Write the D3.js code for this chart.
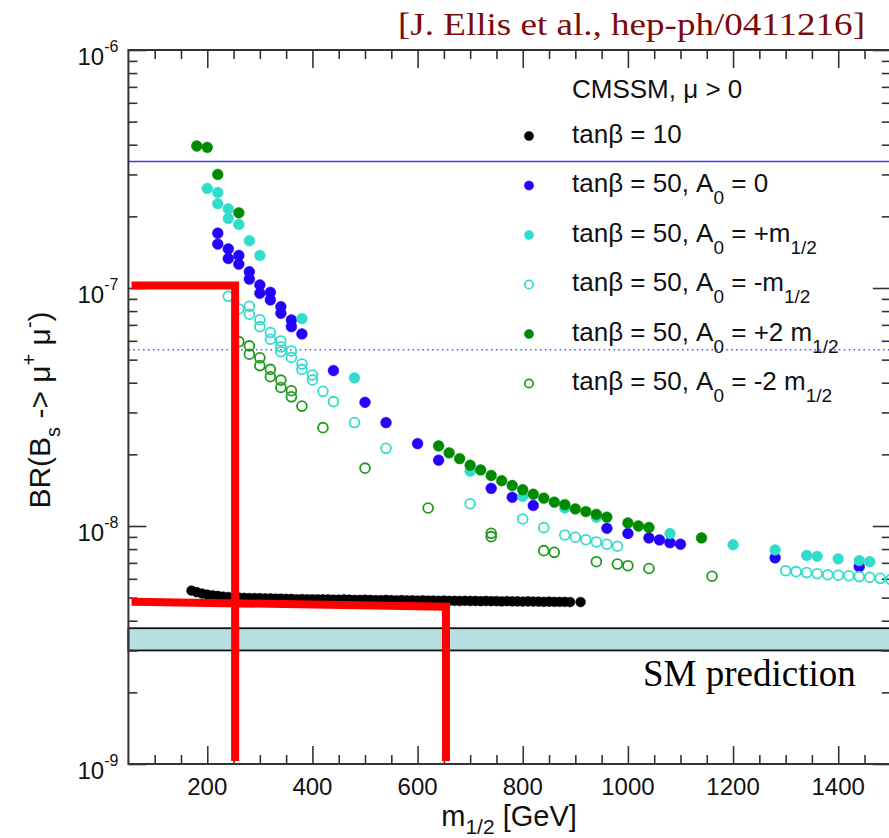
<!DOCTYPE html>
<html>
<head>
<meta charset="utf-8">
<script src="https://cdn.jsdelivr.net/npm/d3@7"></script>
<style>
  html, body { margin: 0; padding: 0; background: #fff; }
  svg { display: block; font-family: "Liberation Sans", Arial, Helvetica, sans-serif; }
</style>
</head>
<body>
<div id="chart"></div>
<script>
// ---------------- data ----------------
const xMajorTicks = [200, 400, 600, 800, 1000, 1200, 1400];
const yMajorTicks = [1e-9, 1e-8, 1e-7, 1e-6];
const yTickExponents = ["-9", "-8", "-7", "-6"];

// tan(beta) = 10
const tb10 = [
  [170,5.35e-9],[180,5.27e-9],[190,5.20e-9],[200,5.15e-9],[210,5.11e-9],[220,5.08e-9],[230,5.05e-9],
  [240,5.03e-9],[250,5.02e-9],[260,5.00e-9],[270,4.99e-9],[280,4.98e-9],[290,4.98e-9],[300,4.97e-9],
  [310,4.96e-9],[320,4.96e-9],[330,4.95e-9],[340,4.95e-9],[350,4.94e-9],[360,4.94e-9],[370,4.92e-9],
  [380,4.93e-9],[390,4.92e-9],[400,4.92e-9],[410,4.91e-9],[420,4.92e-9],[430,4.91e-9],[440,4.90e-9],
  [450,4.90e-9],[460,4.91e-9],[470,4.90e-9],[480,4.89e-9],[490,4.89e-9],[500,4.90e-9],[510,4.89e-9],
  [520,4.88e-9],[530,4.88e-9],[540,4.89e-9],[550,4.88e-9],[560,4.87e-9],[570,4.88e-9],[580,4.87e-9],
  [590,4.87e-9],[600,4.86e-9],[610,4.87e-9],[620,4.86e-9],[630,4.86e-9],[640,4.85e-9],[650,4.86e-9],
  [660,4.85e-9],[670,4.85e-9],[680,4.84e-9],[690,4.85e-9],[700,4.84e-9],[710,4.84e-9],[720,4.83e-9],
  [730,4.84e-9],[740,4.83e-9],[750,4.83e-9],[760,4.82e-9],[770,4.83e-9],[780,4.82e-9],[790,4.82e-9],
  [800,4.81e-9],[810,4.82e-9],[820,4.81e-9],[830,4.81e-9],[840,4.80e-9],[850,4.81e-9],[860,4.80e-9],
  [870,4.80e-9],[880,4.80e-9],[890,4.79e-9],[910,4.79e-9]
];

// tan(beta) = 50, A0 = 0
const tb50A0 = [
  [220,1.70e-7],[220,1.53e-7],[240,1.46e-7],[240,1.33e-7],[260,1.37e-7],[260,1.26e-7],[280,1.17e-7],
  [280,1.09e-7],[300,1.03e-7],[300,9.50e-8],[320,9.59e-8],[320,8.91e-8],[340,8.34e-8],[340,7.83e-8],
  [360,7.34e-8],[360,6.88e-8],[380,6.41e-8],[440,4.50e-8],[500,3.31e-8],[540,2.72e-8],[600,2.22e-8],
  [640,1.89e-8],[740,1.44e-8],[780,1.32e-8],[820,1.22e-8],[960,9.78e-9],[1000,9.30e-9],[1040,8.91e-9],
  [1060,8.74e-9],[1080,8.51e-9],[1100,8.38e-9],[1280,7.35e-9],[1440,6.75e-9]
];

// tan(beta) = 50, A0 = +m1/2
const tb50Ap1 = [
  [200,2.62e-7],[220,2.52e-7],[220,2.26e-7],[240,2.15e-7],[240,1.96e-7],[260,1.85e-7],[280,1.58e-7],
  [300,1.37e-7],[380,7.44e-8],[480,4.19e-8],[700,1.70e-8],[800,1.33e-8],[880,1.19e-8],[940,1.09e-8],
  [1080,9.30e-9],[1200,8.34e-9],[1280,7.93e-9],[1340,7.53e-9],[1360,7.46e-9],[1400,7.28e-9],
  [1440,7.16e-9],[1460,7.08e-9]
];

// tan(beta) = 50, A0 = -m1/2
const tb50Am1 = [
  [240,9.23e-8],[260,8.16e-8],[280,8.38e-8],[280,7.76e-8],[300,7.36e-8],[300,6.88e-8],[320,6.50e-8],
  [320,6.09e-8],[340,5.99e-8],[340,5.66e-8],[340,5.40e-8],[360,5.44e-8],[360,5.11e-8],[380,4.79e-8],
  [380,4.55e-8],[400,4.31e-8],[400,4.11e-8],[420,3.68e-8],[440,3.33e-8],[480,2.72e-8],[540,2.12e-8],
  [700,1.24e-8],[800,1.07e-8],[840,9.84e-9],[880,9.17e-9],[900,8.97e-9],[920,8.76e-9],[940,8.57e-9],
  [960,8.38e-9],[980,8.22e-9],[1300,6.49e-9],[1320,6.43e-9],[1340,6.37e-9],[1360,6.30e-9],
  [1380,6.24e-9],[1400,6.21e-9],[1420,6.18e-9],[1440,6.13e-9],[1460,6.09e-9],[1480,6.03e-9],[1500,5.96e-9]
];

// tan(beta) = 50, A0 = +2 m1/2
const tb50Ap2 = [
  [180,3.95e-7],[200,3.90e-7],[220,3.00e-7],[260,2.07e-7],[640,2.17e-8],[660,2.03e-8],[680,1.92e-8],
  [700,1.80e-8],[720,1.72e-8],[740,1.63e-8],[760,1.55e-8],[780,1.48e-8],[800,1.42e-8],[820,1.36e-8],
  [840,1.31e-8],[860,1.26e-8],[880,1.23e-8],[900,1.18e-8],[920,1.15e-8],[940,1.12e-8],[960,1.09e-8],
  [1000,1.03e-8],[1020,1.00e-8],[1040,9.86e-9],[1140,8.91e-9]
];

// tan(beta) = 50, A0 = -2 m1/2
const tb50Am2 = [
  [260,5.95e-8],[280,5.71e-8],[280,5.27e-8],[300,5.09e-8],[300,4.72e-8],[320,4.55e-8],[320,4.24e-8],
  [340,4.10e-8],[340,3.82e-8],[360,3.70e-8],[360,3.49e-8],[380,3.19e-8],[420,2.59e-8],[500,1.75e-8],
  [620,1.19e-8],[740,9.32e-9],[740,9.02e-9],[840,7.88e-9],[860,7.75e-9],[940,7.08e-9],[980,6.92e-9],
  [1000,6.81e-9],[1040,6.63e-9],[1160,6.15e-9]
];

// reference levels
const limitSolid = 3.4e-7;
const limitDotted = 5.5e-8;
const smBand = [3.0e-9, 3.72e-9];

// hand-drawn red annotation lines (m1/2, BR)
const redLine1 = [[56,1.024e-7],[253,1.024e-7],[253,1.03e-9]];
const redLine2 = [[56,4.81e-9],[654,4.58e-9],[654,1.03e-9]];

const legendItems = [
  {color:"#000000", filled:true,  parts:[["tanβ = 10",0]]},
  {color:"#2400ff", filled:true,  parts:[["tanβ = 50, A",0],["0",1],[" = 0",0]]},
  {color:"#30dccb", filled:true,  parts:[["tanβ = 50, A",0],["0",1],[" = +m",0],["1/2",1]]},
  {color:"#30dccb", filled:false, parts:[["tanβ = 50, A",0],["0",1],[" = -m",0],["1/2",1]]},
  {color:"#008a00", filled:true,  parts:[["tanβ = 50, A",0],["0",1],[" = +2 m",0],["1/2",1]]},
  {color:"#1e9a1e", filled:false, parts:[["tanβ = 50, A",0],["0",1],[" = -2 m",0],["1/2",1]]}
];

// ---------------- layout ----------------
const W = 889, H = 838;
const pL = 128.4, pR = 890.8, pT = 50, pB = 764;
const SERIF = "'Liberation Serif', 'Times New Roman', Times, serif";

const svg = d3.select("#chart").append("svg")
  .attr("width", W).attr("height", H).attr("viewBox", `0 0 ${W} ${H}`);
svg.append("rect").attr("width", W).attr("height", H).attr("fill", "#fff");

const x = d3.scaleLinear().domain([50, 1500]).range([pL, pR]);
const y = d3.scaleLog().domain([1e-9, 1e-6]).range([pB, pT]);

// minor ticks
const xMinor = d3.range(100, 1500, 50).filter(v => !xMajorTicks.includes(v));
const yMinor = [];
[1e-9, 1e-8, 1e-7].forEach(d => { for (let k = 2; k <= 9; k++) yMinor.push(k * d); });

// SM band
svg.append("rect")
  .attr("x", x(50)).attr("width", x(1500) - x(50))
  .attr("y", y(smBand[1])).attr("height", y(smBand[0]) - y(smBand[1]))
  .attr("fill", "#b9dfe3").attr("stroke", "#111").attr("stroke-width", 1.8);

// reference lines
svg.append("line").attr("x1", x(50)).attr("x2", x(1500))
  .attr("y1", y(limitSolid)).attr("y2", y(limitSolid))
  .attr("stroke", "#3a3aff").attr("stroke-width", 1.5);
svg.append("line").attr("x1", x(50)).attr("x2", x(1500))
  .attr("y1", y(limitDotted)).attr("y2", y(limitDotted))
  .attr("stroke", "#5050ff").attr("stroke-width", 1.5).attr("stroke-dasharray", "1.5,3.4");

// axes (inward ticks on all four sides)
function styleAxis(g) {
  g.select(".domain").remove();
  g.selectAll(".tick line").attr("stroke", "#333").attr("stroke-width", 1.6);
  g.selectAll(".tick text").remove();
}
svg.append("g").attr("transform", `translate(0,${pB})`)
  .call(d3.axisBottom(x).tickValues(xMajorTicks).tickSize(-18)).call(styleAxis);
svg.append("g").attr("transform", `translate(0,${pB})`)
  .call(d3.axisBottom(x).tickValues(xMinor).tickSize(-9)).call(styleAxis);
svg.append("g").attr("transform", `translate(0,${pT})`)
  .call(d3.axisTop(x).tickValues(xMajorTicks).tickSize(-18)).call(styleAxis);
svg.append("g").attr("transform", `translate(0,${pT})`)
  .call(d3.axisTop(x).tickValues(xMinor).tickSize(-9)).call(styleAxis);
svg.append("g").attr("transform", `translate(${pL},0)`)
  .call(d3.axisLeft(y).tickValues(yMajorTicks).tickSize(-18)).call(styleAxis);
svg.append("g").attr("transform", `translate(${pL},0)`)
  .call(d3.axisLeft(y).tickValues(yMinor).tickSize(-9)).call(styleAxis);
svg.append("g").attr("transform", `translate(${pR},0)`)
  .call(d3.axisRight(y).tickValues(yMajorTicks).tickSize(-18)).call(styleAxis);
svg.append("g").attr("transform", `translate(${pR},0)`)
  .call(d3.axisRight(y).tickValues(yMinor).tickSize(-9)).call(styleAxis);

// frame
svg.append("rect").attr("x", pL).attr("y", pT)
  .attr("width", pR - pL).attr("height", pB - pT)
  .attr("fill", "none").attr("stroke", "#333").attr("stroke-width", 2);

// x tick labels
svg.append("g").selectAll("text").data(xMajorTicks).join("text")
  .attr("x", d => x(d)).attr("y", pB + 31)
  .attr("text-anchor", "middle").attr("font-size", 24).attr("fill", "#111")
  .text(d => d);

// y tick labels
const yl = svg.append("g").selectAll("text").data(yMajorTicks).join("text")
  .attr("x", pL - 10).attr("y", d => y(d) + 15)
  .attr("text-anchor", "end").attr("fill", "#111");
yl.append("tspan").attr("font-size", 24).text("10");
yl.append("tspan").attr("font-size", 16).attr("dy", -13).text((d, i) => yTickExponents[i]);

// data series
function dots(data, color, filled, r) {
  svg.append("g").selectAll("circle").data(data).join("circle")
    .attr("cx", d => x(d[0])).attr("cy", d => y(d[1])).attr("r", r)
    .attr("fill", filled ? color : "none")
    .attr("stroke", color).attr("stroke-width", filled ? 0.5 : 1.8);
}
dots(tb10, "#000000", true, 4.9);
dots(tb50A0, "#2400ff", true, 5.4);
dots(tb50Ap1, "#30dccb", true, 5.4);
dots(tb50Am1, "#30dccb", false, 4.9);
dots(tb50Ap2, "#008a00", true, 5.4);
dots(tb50Am2, "#1e9a1e", false, 4.9);

// red annotation lines
const lineGen = d3.line().x(d => x(d[0])).y(d => y(d[1]));
[redLine1, redLine2].forEach(L => {
  svg.append("path").attr("d", lineGen(L)).attr("fill", "none")
    .attr("stroke", "#ff0000").attr("stroke-width", 8).attr("stroke-linejoin", "miter");
});

// legend
const lgX = 529, lgTextX = 572, LG = 26;
svg.append("text").attr("x", lgTextX).attr("y", 98).attr("font-size", LG).attr("fill", "#111")
  .text("CMSSM, μ > 0");
legendItems.forEach((it, i) => {
  const cy = 136 + i * 49.5;
  svg.append("circle").attr("cx", lgX).attr("cy", cy).attr("r", it.filled ? 4.6 : 4.2)
    .attr("fill", it.filled ? it.color : "none").attr("stroke", it.color)
    .attr("stroke-width", it.filled ? 0.5 : 1.7);
  const t = svg.append("text").attr("x", lgTextX).attr("y", cy + 6.5).attr("fill", "#111");
  let down = false;
  it.parts.forEach(p => {
    const s = t.append("tspan").text(p[0]);
    if (p[1]) { s.attr("font-size", 19).attr("dy", 12); down = true; }
    else { s.attr("font-size", LG).attr("dy", down ? -12 : 0); down = false; }
  });
});

// axis titles
const xt = svg.append("text").attr("x", 509).attr("y", 826).attr("text-anchor", "middle")
  .attr("font-size", 29).attr("fill", "#111");
xt.append("tspan").text("m");
xt.append("tspan").attr("font-size", 21).attr("dy", 8).text("1/2");
xt.append("tspan").attr("dy", -8).text(" [GeV]");

const yt = svg.append("text").attr("transform", "translate(50,410) rotate(-90)")
  .attr("text-anchor", "middle").attr("font-size", 30).attr("fill", "#111");
yt.append("tspan").text("BR(B");
yt.append("tspan").attr("font-size", 20).attr("dy", 10).text("s");
yt.append("tspan").attr("dy", -10).text(" -> μ");
yt.append("tspan").attr("font-size", 20).attr("dy", -14).text("+");
yt.append("tspan").attr("dy", 14).text(" μ");
yt.append("tspan").attr("font-size", 20).attr("dy", -14).text("-");
yt.append("tspan").attr("dy", 14).text(")");

// annotations
svg.append("text").attr("x", 398).attr("y", 35)
  .style("font-family", SERIF)
  .attr("font-size", 32).attr("fill", "#7d0a0a")
  .attr("textLength", 467).attr("lengthAdjust", "spacingAndGlyphs")
  .text("[J. Ellis et al., hep-ph/0411216]");
svg.append("text").attr("x", 643).attr("y", 686)
  .style("font-family", SERIF)
  .attr("font-size", 37).attr("fill", "#000")
  .text("SM prediction");
</script>
</body>
</html>
